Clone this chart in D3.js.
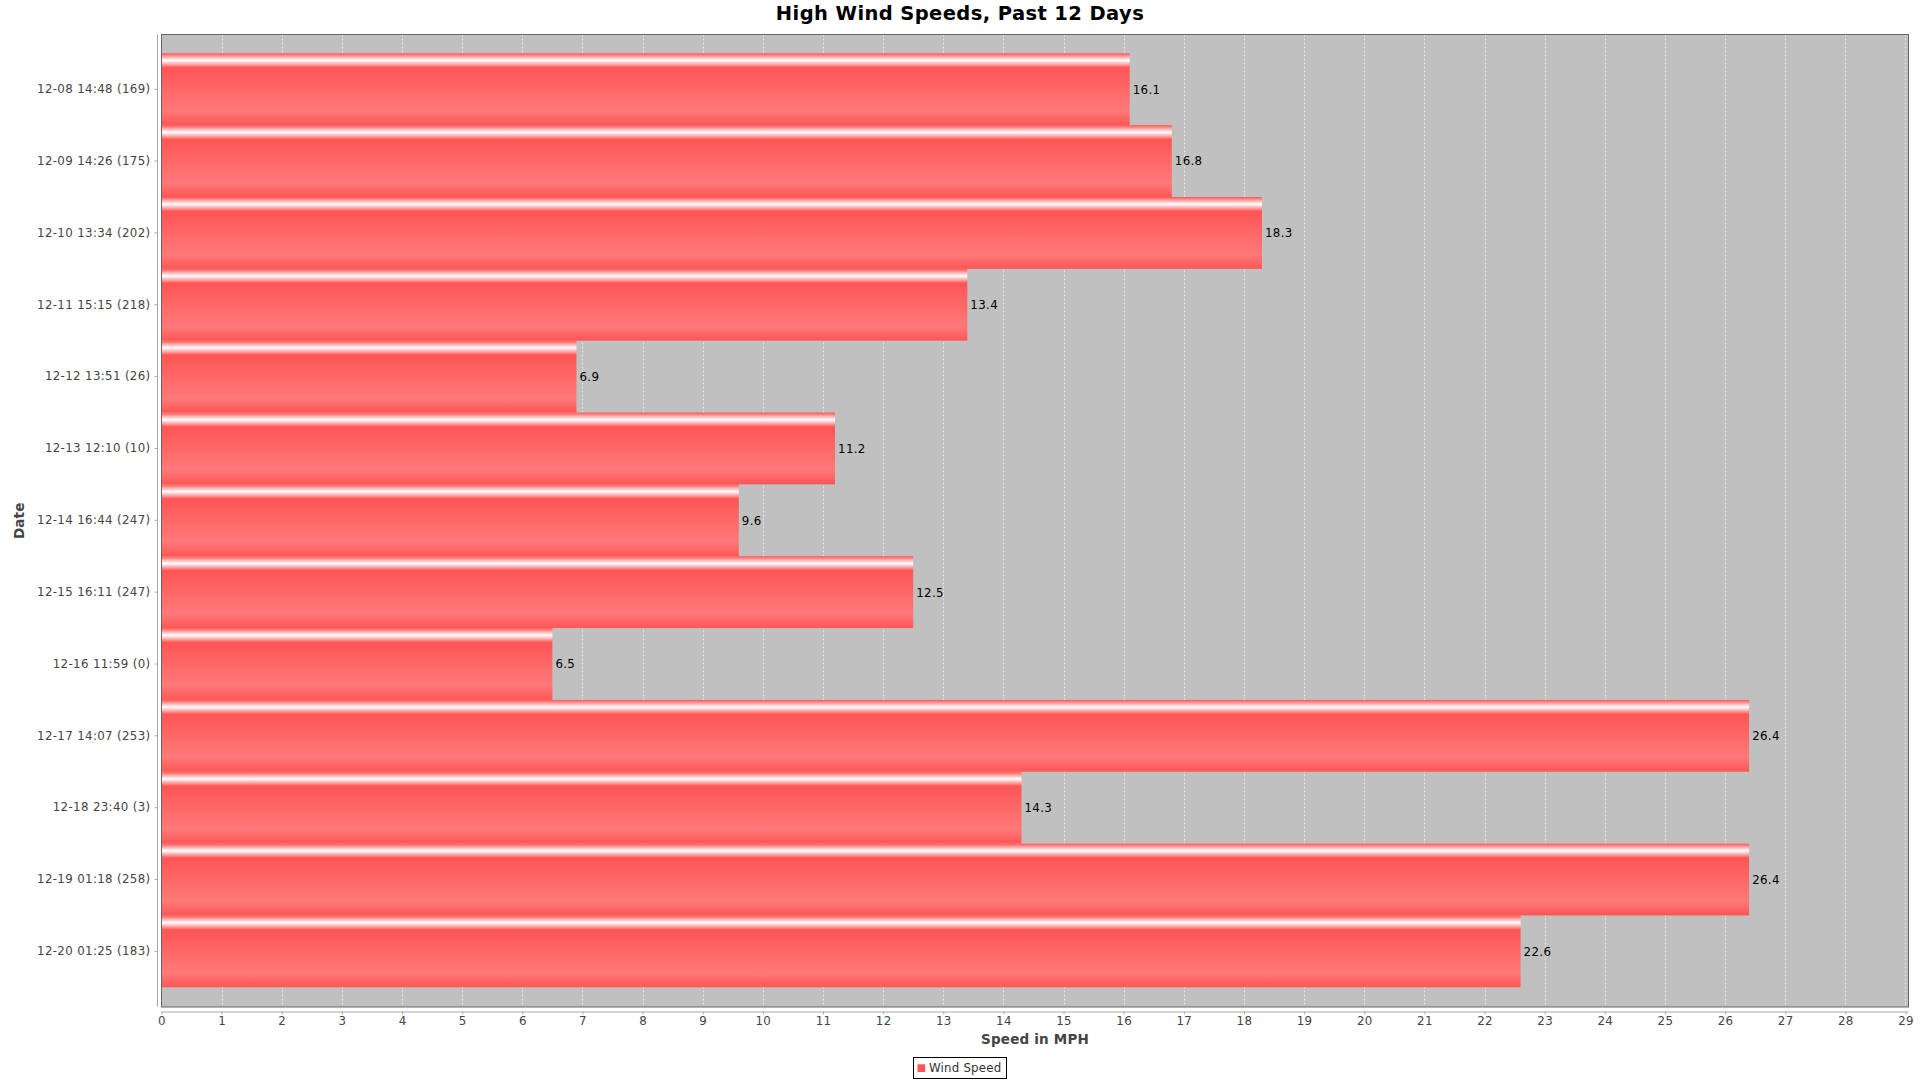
<!DOCTYPE html>
<html><head><meta charset="utf-8">
<script src="https://cdn.jsdelivr.net/npm/d3@7"></script>
<style>
html,body{margin:0;padding:0;background:#fff;}
svg{display:block;font-family:"DejaVu Sans",sans-serif;}
</style></head>
<body>
<svg id="chart" width="1920" height="1080"></svg>
<script>
const categories = ["12-08 14:48 (169)","12-09 14:26 (175)","12-10 13:34 (202)","12-11 15:15 (218)","12-12 13:51 (26)","12-13 12:10 (10)","12-14 16:44 (247)","12-15 16:11 (247)","12-16 11:59 (0)","12-17 14:07 (253)","12-18 23:40 (3)","12-19 01:18 (258)","12-20 01:25 (183)"];
const windSpeed = [16.1,16.8,18.3,13.4,6.9,11.2,9.6,12.5,6.5,26.4,14.3,26.4,22.6];
const xTicks = d3.range(0,30);
const title = "High Wind Speeds, Past 12 Days";
const xTitle = "Speed in MPH";
const yTitle = "Date";
const seriesName = "Wind Speed";

const svg = d3.select("#chart");
const plot = {left:161.5, top:34.5, right:1908.5, bottom:1007};
const x = d3.scaleLinear().domain([0,29.05]).range([plot.left, plot.right]);
const y = d3.scaleBand().domain(categories).range([53.3, 987.3]).padding(0);
const LS = "0.35px";

const defs = svg.append("defs");
const grad = defs.append("linearGradient").attr("id","barGrad").attr("x1",0).attr("y1",0).attr("x2",0).attr("y2",1);
[[0,"#ff5555"],[0.10,"#ffffff"],[0.20,"#ff5555"],[0.80,"#ff7979"],[1,"#ff5555"]].forEach(([o,c])=>grad.append("stop").attr("offset",o).attr("stop-color",c));

// plot background
svg.append("rect").attr("x",plot.left).attr("y",plot.top).attr("width",plot.right-plot.left).attr("height",plot.bottom-plot.top).attr("fill","#c0c0c0");

// gridlines
svg.append("g").selectAll("line").data(xTicks.filter(d=>d>0)).join("line")
  .attr("x1",d=>Math.round(x(d))+0.5).attr("x2",d=>Math.round(x(d))+0.5)
  .attr("y1",plot.top).attr("y2",plot.bottom)
  .attr("stroke","#e8e8e8").attr("stroke-width",1).attr("stroke-dasharray","2,2");

// bars
svg.append("g").selectAll("rect").data(windSpeed).join("rect")
  .attr("x",x(0)).attr("y",(d,i)=>y(categories[i]))
  .attr("width",d=>x(d)-x(0)).attr("height",y.bandwidth())
  .attr("fill","url(#barGrad)");

// value labels
svg.append("g").selectAll("text").data(windSpeed).join("text")
  .attr("x",d=>x(d)+3).attr("y",(d,i)=>y(categories[i])+y.bandwidth()/2+4.4)
  .attr("font-size","11.8px").attr("letter-spacing",LS).attr("fill","#000").text(d=>d.toFixed(1));

// plot outline
svg.append("rect").attr("x",plot.left).attr("y",plot.top).attr("width",plot.right-plot.left).attr("height",plot.bottom-plot.top)
  .attr("fill","none").attr("stroke","#666").attr("stroke-width",1);

// x axis
const xAxis = svg.append("g").attr("transform",`translate(0,1011.5)`)
  .call(d3.axisBottom(x).tickValues(xTicks).tickFormat(d3.format("d")).tickSizeInner(3).tickSizeOuter(0).tickPadding(2));
xAxis.select(".domain").attr("stroke","#aaa").attr("d",`M${plot.left},0.5H${plot.right}`);
xAxis.selectAll(".tick line").attr("stroke","#aaa");
xAxis.selectAll(".tick text").attr("font-size","11.8px").attr("letter-spacing",LS).attr("fill","#444").attr("font-family","DejaVu Sans");

// y axis
const yAxis = svg.append("g").attr("transform",`translate(157.5,0)`)
  .call(d3.axisLeft(y).tickSizeInner(3).tickSizeOuter(0).tickPadding(4));
yAxis.select(".domain").attr("stroke","#aaa").attr("d",`M0,${plot.top}V${plot.bottom}`);
yAxis.selectAll(".tick line").attr("stroke","#aaa");
yAxis.selectAll(".tick text").attr("font-size","11.8px").attr("letter-spacing",LS).attr("fill","#444").attr("font-family","DejaVu Sans");

// titles
svg.append("text").attr("x",960).attr("y",19.5).attr("text-anchor","middle")
  .attr("font-size","19.5px").attr("letter-spacing","0.4px").attr("font-weight","bold").attr("fill","#000").text(title);
svg.append("text").attr("x",(plot.left+plot.right)/2).attr("y",1044).attr("text-anchor","middle")
  .attr("font-size","13.5px").attr("letter-spacing","0.2px").attr("font-weight","bold").attr("fill","#444").text(xTitle);
svg.append("text").attr("transform",`translate(23.5,${(plot.top+plot.bottom)/2}) rotate(-90)`).attr("text-anchor","middle")
  .attr("font-size","13.5px").attr("letter-spacing","0.2px").attr("font-weight","bold").attr("fill","#444").text(yTitle);

// legend
const lg = svg.append("g");
lg.append("rect").attr("x",913.5).attr("y",1057.5).attr("width",93).attr("height",21).attr("fill","#fff").attr("stroke","#000");
lg.append("rect").attr("x",917.5).attr("y",1064.3).attr("width",7.7).attr("height",7.7).attr("fill","#ff5555");
lg.append("text").attr("x",929).attr("y",1071.7).attr("font-size","11.8px").attr("letter-spacing","0.2px").attr("fill","#333").text(seriesName);
</script>
</body></html>
